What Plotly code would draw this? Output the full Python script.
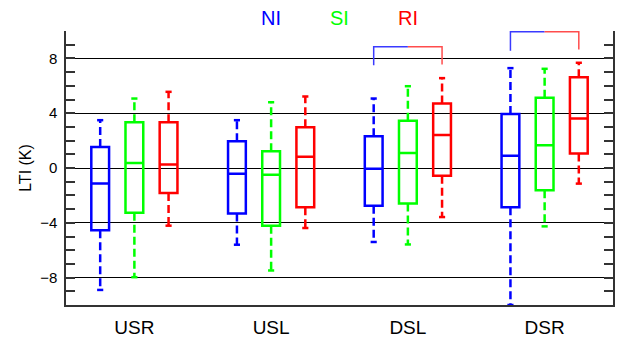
import plotly.graph_objects as go

categories = ["USR", "USL", "DSL", "DSR"]
series = ["NI", "SI", "RI"]
colors = ["#0000ff", "#00ff00", "#ff0000"]

# per series: values for USR, USL, DSL, DSR
ni_lower = [-8.9, -5.6, -5.4, -10.0]
ni_q1 = [-4.55, -3.33, -2.75, -2.87]
ni_median = [-1.14, -0.42, -0.05, 0.9]
ni_q3 = [1.53, 1.95, 2.32, 3.95]
ni_upper = [3.49, 3.49, 5.07, 7.29]

si_lower = [-7.97, -7.48, -5.58, -4.26]
si_q1 = [-3.26, -4.21, -2.6, -1.63]
si_median = [0.37, -0.5, 1.1, 1.66]
si_q3 = [3.34, 1.22, 3.44, 5.12]
si_upper = [5.07, 4.8, 5.97, 7.24]

ri_lower = [-4.21, -4.38, -3.58, -1.14]
ri_q1 = [-1.83, -2.87, -0.57, 1.05]
ri_median = [0.25, 0.83, 2.41, 3.61]
ri_q3 = [3.34, 2.97, 4.71, 6.63]
ri_upper = [5.56, 5.22, 6.56, 7.68]

stats = [
    (ni_lower, ni_q1, ni_median, ni_q3, ni_upper),
    (si_lower, si_q1, si_median, si_q3, si_upper),
    (ri_lower, ri_q1, ri_median, ri_q3, ri_upper),
]

# significance brackets (NI vs RI) for DSL and DSR
bracket_groups = [2, 3]
bracket_top = [8.85, 9.95]
bracket_left_end = [7.5, 8.55]
bracket_right_end = [7.55, 8.65]

offsets = [-0.25, 0.0, 0.25]
box_w = 0.13
cap_w = 0.045

fig = go.Figure()

for j, (lo, q1, med, q3, up) in enumerate(stats):
    xs = [i + offsets[j] for i in range(len(categories))]
    fig.add_trace(go.Box(
        x=xs, q1=q1, median=med, q3=q3, lowerfence=q1, upperfence=q3,
        width=box_w, line=dict(color=colors[j], width=2.5),
        fillcolor="rgba(0,0,0,0)", boxpoints=False, whiskerwidth=0,
        showlegend=False, name=series[j]))
    # dashed whiskers
    for i, x in enumerate(xs):
        fig.add_trace(go.Scatter(
            x=[x, x], y=[q3[i], up[i]], mode="lines",
            line=dict(color=colors[j], width=2.5, dash="8px,4px"),
            showlegend=False, hoverinfo="skip"))
        fig.add_trace(go.Scatter(
            x=[x, x], y=[q1[i], lo[i]], mode="lines",
            line=dict(color=colors[j], width=2.5, dash="8px,4px"),
            showlegend=False, hoverinfo="skip", cliponaxis=False))
        cx, cy = [], []
        for v in (up[i], lo[i]):
            cx += [x - cap_w / 2, x + cap_w / 2, None]
            cy += [v, v, None]
        fig.add_trace(go.Scatter(
            x=cx, y=cy, mode="lines", line=dict(color=colors[j], width=2.5),
            showlegend=False, hoverinfo="skip", cliponaxis=False))

for k, g in enumerate(bracket_groups):
    fig.add_trace(go.Scatter(
        x=[g + offsets[0], g + offsets[0], g + offsets[1]],
        y=[bracket_left_end[k], bracket_top[k], bracket_top[k]],
        mode="lines", line=dict(color="#3a3aff", width=1.5),
        showlegend=False, hoverinfo="skip", cliponaxis=False))
    fig.add_trace(go.Scatter(
        x=[g + offsets[1], g + offsets[2], g + offsets[2]],
        y=[bracket_top[k], bracket_top[k], bracket_right_end[k]],
        mode="lines", line=dict(color="#ff4d4d", width=1.5),
        showlegend=False, hoverinfo="skip", cliponaxis=False))

for j, name in enumerate(series):
    fig.add_annotation(x=1 + 0.5 * j, xref="x", y=1.049, yref="paper",
                       text=name, showarrow=False, xanchor="center", yanchor="middle",
                       font=dict(color=colors[j], size=20, family="Liberation Sans"))

fig.update_layout(
    width=620, height=337,
    margin=dict(l=66, r=7, t=31, b=32),
    plot_bgcolor="white", paper_bgcolor="white",
    font=dict(family="Liberation Sans", color="black"),
    showlegend=False,
    xaxis=dict(range=[-0.5, 3.5], tickvals=list(range(len(categories))),
               ticktext=categories, showgrid=False, zeroline=False,
               showline=True, linecolor="#333", linewidth=1.5, ticks="",
               tickfont=dict(size=19), ticklabelstandoff=4, automargin=False),
    yaxis=dict(range=[-10, 10], tick0=0, dtick=4, ticks="inside", ticklen=9,
               tickcolor="#333", tickwidth=1.5,
               minor=dict(dtick=1, ticks="inside", ticklen=9, tickcolor="#333", tickwidth=1.5, showgrid=False),
               showgrid=True, gridcolor="black", gridwidth=1, zeroline=False,
               showline=True, linecolor="#333", linewidth=1.5, mirror="ticks",
               tickfont=dict(size=15), ticklabelstandoff=4, automargin=False,
               title=dict(text="LTI (K)", font=dict(size=16), standoff=5)),
)

fig.write_html("out.html")
